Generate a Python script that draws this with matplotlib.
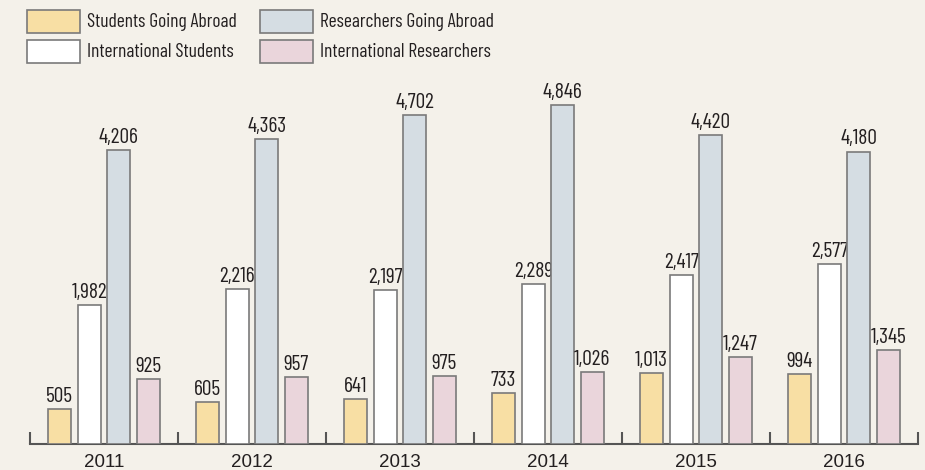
import matplotlib
matplotlib.use("Agg")
import matplotlib.pyplot as plt
from matplotlib.patches import Rectangle
from matplotlib import font_manager

years = ["2011", "2012", "2013", "2014", "2015", "2016"]
students_abroad = [505, 605, 641, 733, 1013, 994]
intl_students = [1982, 2216, 2197, 2289, 2417, 2577]
researchers_abroad = [4206, 4363, 4702, 4846, 4420, 4180]
intl_researchers = [925, 957, 975, 1026, 1247, 1345]

series = [
    ("Students Going Abroad", students_abroad, "#f8dfa4"),
    ("International Students", intl_students, "#ffffff"),
    ("Researchers Going Abroad", researchers_abroad, "#d5dde3"),
    ("International Researchers", intl_researchers, "#ead5db"),
]

names = {f.name for f in font_manager.fontManager.ttflist}
narrow = next((n for n in ["Barlow Condensed", "Roboto Condensed", "Archivo Narrow",
                           "Asap Condensed"] if n in names), "DejaVu Sans")
NARROW = [narrow, "DejaVu Sans"]
REG = ["Liberation Sans", "DejaVu Sans"]

BG = "#f4f1ea"
TXT = "#231f20"
EDGE = "#7a7a7a"
W, H = 925, 470
fig = plt.figure(figsize=(W / 100, H / 100), dpi=100, facecolor=BG)
ax_top_px = 70
ax = fig.add_axes([30 / W, (H - 444) / H, (918 - 30) / W, (444 - ax_top_px) / H])
ax.set_facecolor(BG)

offsets = [-0.3, -0.1, 0.1, 0.3]
bw = 0.155
for (name, vals, col), off in zip(series, offsets):
    xs = [i + off for i in range(len(years))]
    ax.bar(xs, vals, width=bw, color=col, edgecolor=EDGE, linewidth=1.2, zorder=3)
    for x, v in zip(xs, vals):
        ax.text(x, v + 45, f"{v:,}", ha="center", va="bottom", fontsize=15.5,
                family=NARROW, color=TXT)

ymax = 4846 * (444 - ax_top_px) / (444 - 105)
ax.set_ylim(0, ymax)
ax.set_xlim(-0.5, len(years) - 0.5)
for s in ["top", "right", "left"]:
    ax.spines[s].set_visible(False)
ax.spines["bottom"].set_color("#555555")
ax.spines["bottom"].set_linewidth(1.5)
ax.set_yticks([])
ax.set_xticks([i - 0.5 for i in range(len(years) + 1)])
ax.set_xticklabels([])
ax.tick_params(axis="x", direction="in", length=9, width=1.5, color="#555555")
for i, y in enumerate(years):
    ax.text(i, -0.026 * ymax, y, ha="center", va="top",
            fontsize=13.5, color=TXT, family=REG)

# legend
leg_pos = [(27, 10), (27, 40), (260, 10), (260, 40)]
for (name, vals, col), (lx, ly) in zip(series, leg_pos):
    fig.add_artist(Rectangle((lx / W, 1 - (ly + 23) / H), 53 / W, 23 / H,
                             transform=fig.transFigure, facecolor=col,
                             edgecolor=EDGE, linewidth=1.2))
    fig.text((lx + 60) / W, 1 - (ly + 12) / H, name, ha="left", va="center",
             fontsize=14, family=NARROW, color=TXT)

fig.savefig("out.png", dpi=100, facecolor=BG)
